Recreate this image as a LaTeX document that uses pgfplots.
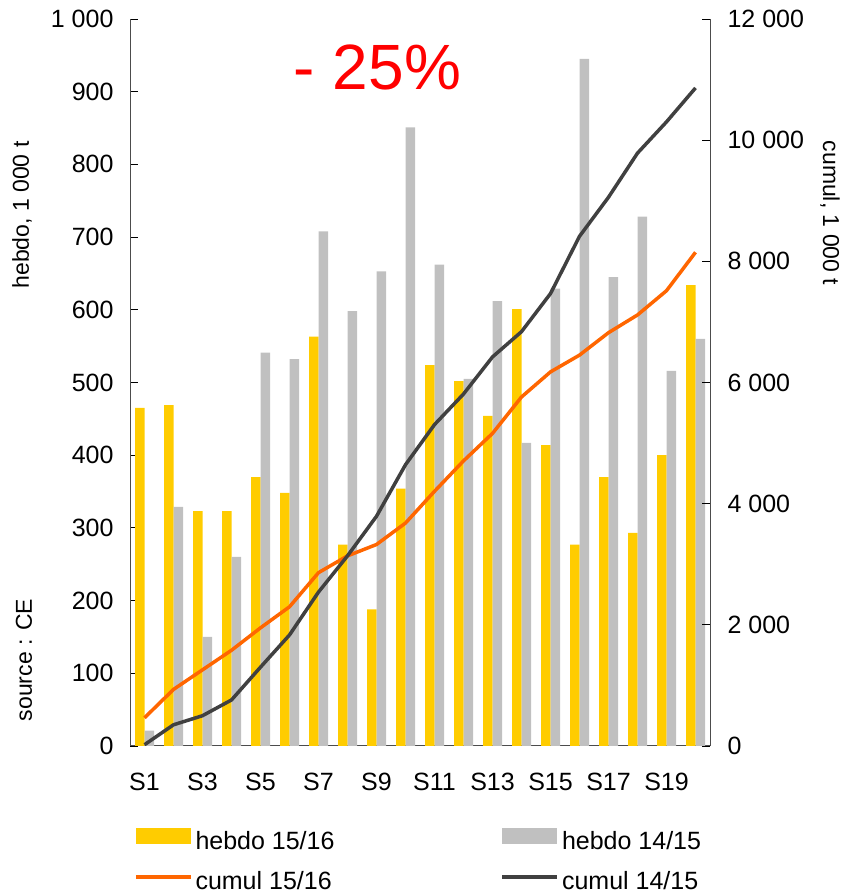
\documentclass[border=0pt]{standalone}
\usepackage{fontspec}
\setmainfont{Liberation Sans}
\usepackage{pgfplots}
\pgfplotsset{compat=1.18}
\definecolor{cyel}{HTML}{FFCC00}
\definecolor{cgray}{HTML}{C0C0C0}
\definecolor{corange}{HTML}{FF6600}
\definecolor{cdark}{HTML}{404040}
\pgfplotsset{
  barleg/.style={legend image code/.code={\fill[##1] (0pt,-1pt) rectangle (55pt,15pt);}},
  lineleg/.style={legend image code/.code={\draw[##1] (0pt,6pt) -- (55pt,6pt);}},
}
\begin{document}
\begin{tikzpicture}[font=\fontsize{25}{30}\selectfont]
\useasboundingbox (0,0) rectangle (844pt,893pt);
\begin{axis}[
  at={(130pt,147pt)}, anchor=south west,
  scale only axis, width=580pt, height=727pt,
  xmin=0.5, xmax=20.5, ymin=0, ymax=1000,
  axis x line*=bottom, axis y line*=left,
  axis line style={-, black!70, line width=1pt},
  ybar=0pt, bar width=9.5pt,
  xtick={1,3,...,19},
  xticklabels={S1,S3,S5,S7,S9,S11,S13,S15,S17,S19},
  ytick={0,100,...,1000},
  yticklabels={0,100,200,300,400,500,600,700,800,900,1 000},
  tick align=inside, major tick length=8pt,
  y tick style={black, line width=0.8pt},
  x tick style={draw=none},
  xticklabel style={yshift=-24pt},
  yticklabel style={xshift=-13pt},
]
\addplot[fill=cyel, draw=none] coordinates {
(1,465) (2,469) (3,323) (4,323) (5,370) (6,348) (7,563) (8,277) (9,188) (10,354)
(11,524) (12,502) (13,454) (14,601) (15,414) (16,277) (17,370) (18,293) (19,400) (20,634)};
\addplot[fill=cgray, draw=none] coordinates {
(1,21) (2,329) (3,150) (4,260) (5,541) (6,532) (7,708) (8,598) (9,653) (10,851)
(11,662) (12,505) (13,612) (14,417) (15,629) (16,945) (17,645) (18,728) (19,516) (20,560)};
\end{axis}
\begin{axis}[
  at={(130pt,147pt)}, anchor=south west,
  scale only axis, width=580pt, height=727pt,
  xmin=0.5, xmax=20.5, ymin=0, ymax=12000,
  axis y line*=right, axis x line=none,
  axis line style={-, black!70, line width=1pt},
  ytick={0,2000,...,12000},
  yticklabels={0,2 000,4 000,6 000,8 000,10 000,12 000},
  tick align=inside, major tick length=8pt,
  y tick style={black, line width=0.8pt},
  yticklabel style={xshift=14pt, inner ysep=1pt},
  legend columns=2,
  legend style={draw=none, fill=none, inner sep=0pt, outer sep=0pt,
    at={(0.0069,-0.113)}, anchor=north west,
    nodes={inner sep=3pt, text height=18pt, text depth=6pt},
    /tikz/row sep=10pt,
    /tikz/every even column/.append style={column sep=163pt}},
  legend cell align=left,
]
\addlegendimage{fill=cyel, draw=none, barleg}
\addlegendimage{fill=cgray, draw=none, barleg}
\addplot[corange, line width=3.5pt, line join=round, lineleg] coordinates {
(1,465) (2,934) (3,1257) (4,1580) (5,1950) (6,2298) (7,2861) (8,3138) (9,3326) (10,3680)
(11,4204) (12,4706) (13,5160) (14,5761) (15,6175) (16,6452) (17,6822) (18,7115) (19,7515) (20,8149)};
\addplot[cdark, line width=3.5pt, line join=round, lineleg] coordinates {
(1,21) (2,350) (3,500) (4,760) (5,1301) (6,1833) (7,2541) (8,3139) (9,3792) (10,4643)
(11,5305) (12,5810) (13,6422) (14,6839) (15,7468) (16,8413) (17,9058) (18,9786) (19,10302) (20,10862)};
\legend{hebdo 15/16, hebdo 14/15, cumul 15/16, cumul 14/15}
\end{axis}
\node[anchor=base, text=red, font=\fontsize{64}{70}\selectfont] at (377.5pt,803pt) {- 25\%};
\node[rotate=90, font=\fontsize{23}{28}\selectfont] at (22pt,678pt) {hebdo, 1 000 t};
\node[rotate=90, font=\fontsize{23}{28}\selectfont] at (24pt,233pt) {source : CE};
\node[rotate=-90, font=\fontsize{23}{28}\selectfont] at (830pt,680pt) {cumul, 1 000 t};
\end{tikzpicture}
\end{document}
